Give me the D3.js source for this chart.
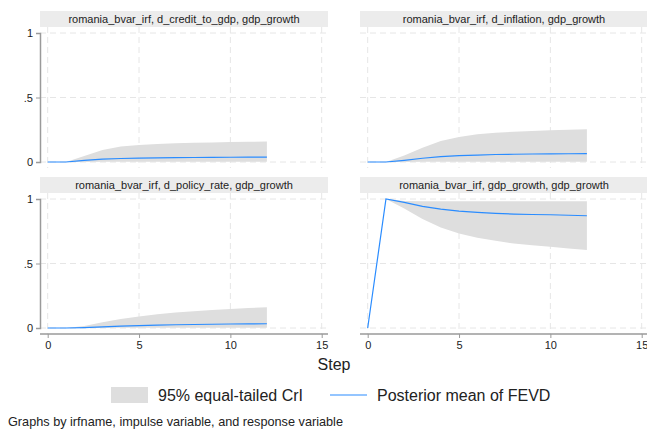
<!DOCTYPE html>
<html><head><meta charset="utf-8">
<script src="https://cdn.jsdelivr.net/npm/d3@7"></script>
<style>body{margin:0;background:#fff}svg{display:block}text{font-family:"Liberation Sans",Arial,sans-serif}</style>
</head><body><svg id="c" width="647" height="430"></svg>
<script>
const steps = [0,1,2,3,4,5,6,7,8,9,10,11,12];
const panelTitles = [
  "romania_bvar_irf, d_credit_to_gdp, gdp_growth",
  "romania_bvar_irf, d_inflation, gdp_growth",
  "romania_bvar_irf, d_policy_rate, gdp_growth",
  "romania_bvar_irf, gdp_growth, gdp_growth"
];
const creditMean  = [0,0,0.012,0.022,0.027,0.030,0.032,0.034,0.035,0.036,0.037,0.038,0.038];
const creditUpper = [0,0,0.047,0.093,0.120,0.132,0.140,0.145,0.149,0.152,0.155,0.157,0.158];
const creditLower = [0,0,0,0.001,0.001,0.001,0.001,0.001,0.001,0.001,0.001,0.001,0.001];
const inflMean  = [0,0,0.013,0.029,0.041,0.049,0.054,0.058,0.060,0.062,0.063,0.064,0.065];
const inflUpper = [0,0,0.050,0.111,0.163,0.194,0.215,0.227,0.235,0.241,0.246,0.250,0.254];
const inflLower = [0,0,0,0.001,0.002,0.002,0.002,0.002,0.002,0.002,0.002,0.002,0.002];
const polMean  = [0,0,0.003,0.008,0.014,0.018,0.022,0.025,0.027,0.029,0.031,0.032,0.033];
const polUpper = [0,0,0.015,0.044,0.070,0.090,0.107,0.120,0.130,0.140,0.148,0.155,0.160];
const polLower = [0,0,0,0,0.001,0.001,0.001,0.001,0.001,0.001,0.001,0.001,0.001];
const gdpMean  = [0,1,0.974,0.943,0.922,0.906,0.896,0.889,0.883,0.880,0.878,0.874,0.870];
const gdpUpper = [0,1,0.985,0.983,0.982,0.982,0.982,0.982,0.982,0.982,0.982,0.982,0.982];
const gdpLower = [0,1,0.927,0.844,0.780,0.733,0.700,0.676,0.655,0.641,0.630,0.617,0.605];
const xTicks = [0,5,10,15];
const yTicks = [0,0.5,1];
const yTickLabels = ["0",".5","1"];
const legendLabels = ["95% equal-tailed CrI","Posterior mean of FEVD"];
const xTitle = "Step";
const note = "Graphs by irfname, impulse variable, and response variable";

const series = [
  {mean:creditMean, lo:creditLower, hi:creditUpper},
  {mean:inflMean, lo:inflLower, hi:inflUpper},
  {mean:polMean, lo:polLower, hi:polUpper},
  {mean:gdpMean, lo:gdpLower, hi:gdpUpper}
];

const svg = d3.select("#c");
const lineColor = "#2a8cff", bandColor = "#dedede", stripColor = "#ececec", gridColor = "#e6e6e6", axisColor = "#9a9a9a";
const pw = 288, ph = 141;
const lefts = [40, 360], tops = [27, 193];

const x = d3.scaleLinear().domain([0,15]).range([7.7, 281.7]);
const y = d3.scaleLinear().domain([0,1]).range([135, 6]);

series.forEach((s, i) => {
  const col = i % 2, row = Math.floor(i/2);
  const g = svg.append("g").attr("transform", `translate(${lefts[col]},${tops[row]})`);
  g.append("rect").attr("x",0).attr("y",-16).attr("width",pw).attr("height",16).attr("fill",stripColor);
  g.append("text").attr("x",pw/2).attr("y",-4).attr("text-anchor","middle").attr("font-size",11).attr("fill","#222").text(panelTitles[i]);
  g.selectAll(".gx").data(xTicks).enter().append("line")
    .attr("x1",d=>x(d)).attr("x2",d=>x(d)).attr("y1",0).attr("y2",ph)
    .attr("stroke",gridColor).attr("stroke-dasharray","6,4");
  g.selectAll(".gy").data(yTicks).enter().append("line")
    .attr("x1",0).attr("x2",pw).attr("y1",d=>y(d)).attr("y2",d=>y(d))
    .attr("stroke",gridColor).attr("stroke-dasharray","6,4");
  const area = d3.area().x((d,j)=>x(steps[j])).y0((d,j)=>y(s.lo[j])).y1((d,j)=>y(s.hi[j]));
  g.append("path").datum(s.mean).attr("d",area).attr("fill",bandColor);
  const line = d3.line().x((d,j)=>x(steps[j])).y(d=>y(d));
  g.append("path").datum(s.mean).attr("d",line).attr("fill","none").attr("stroke",lineColor).attr("stroke-width",1.2);
  if (col === 0) {
    const ya = g.append("g").call(d3.axisLeft(y).tickValues(yTicks).tickFormat((d,k)=>yTickLabels[k]).tickSize(4).tickPadding(3));
    ya.select(".domain").attr("stroke",axisColor).attr("stroke-width",1.5);
    ya.selectAll(".tick line").attr("stroke",axisColor);
    ya.selectAll("text").attr("font-size",11).attr("fill","#222").attr("font-family","Liberation Sans, Arial, sans-serif");
  }
  if (row === 1) {
    const xa = g.append("g").attr("transform",`translate(0,${ph})`)
      .call(d3.axisBottom(x).tickValues(xTicks).tickFormat(d3.format("d")).tickSize(4).tickPadding(3).tickSizeOuter(0));
    xa.select(".domain").attr("stroke",axisColor).attr("stroke-width",1.5).attr("d",`M0,0H${pw}`);
    xa.selectAll(".tick line").attr("stroke",axisColor);
    xa.selectAll("text").attr("font-size",11).attr("fill","#222").attr("font-family","Liberation Sans, Arial, sans-serif");
  }
});

svg.append("text").attr("x",334).attr("y",370).attr("text-anchor","middle").attr("font-size",16).attr("fill","#222").text(xTitle);

const lg = svg.append("g");
lg.append("rect").attr("x",111).attr("y",387).attr("width",37).attr("height",16).attr("fill",bandColor);
lg.append("text").attr("x",158).attr("y",401).attr("font-size",16).attr("fill","#222").text(legendLabels[0]);
lg.append("line").attr("x1",330).attr("x2",367).attr("y1",395).attr("y2",395).attr("stroke",lineColor).attr("stroke-width",1.2);
lg.append("text").attr("x",377).attr("y",401).attr("font-size",16).attr("fill","#222").text(legendLabels[1]);

svg.append("text").attr("x",8).attr("y",426).attr("font-size",12.7).attr("fill","#222").text(note);
</script></body></html>
